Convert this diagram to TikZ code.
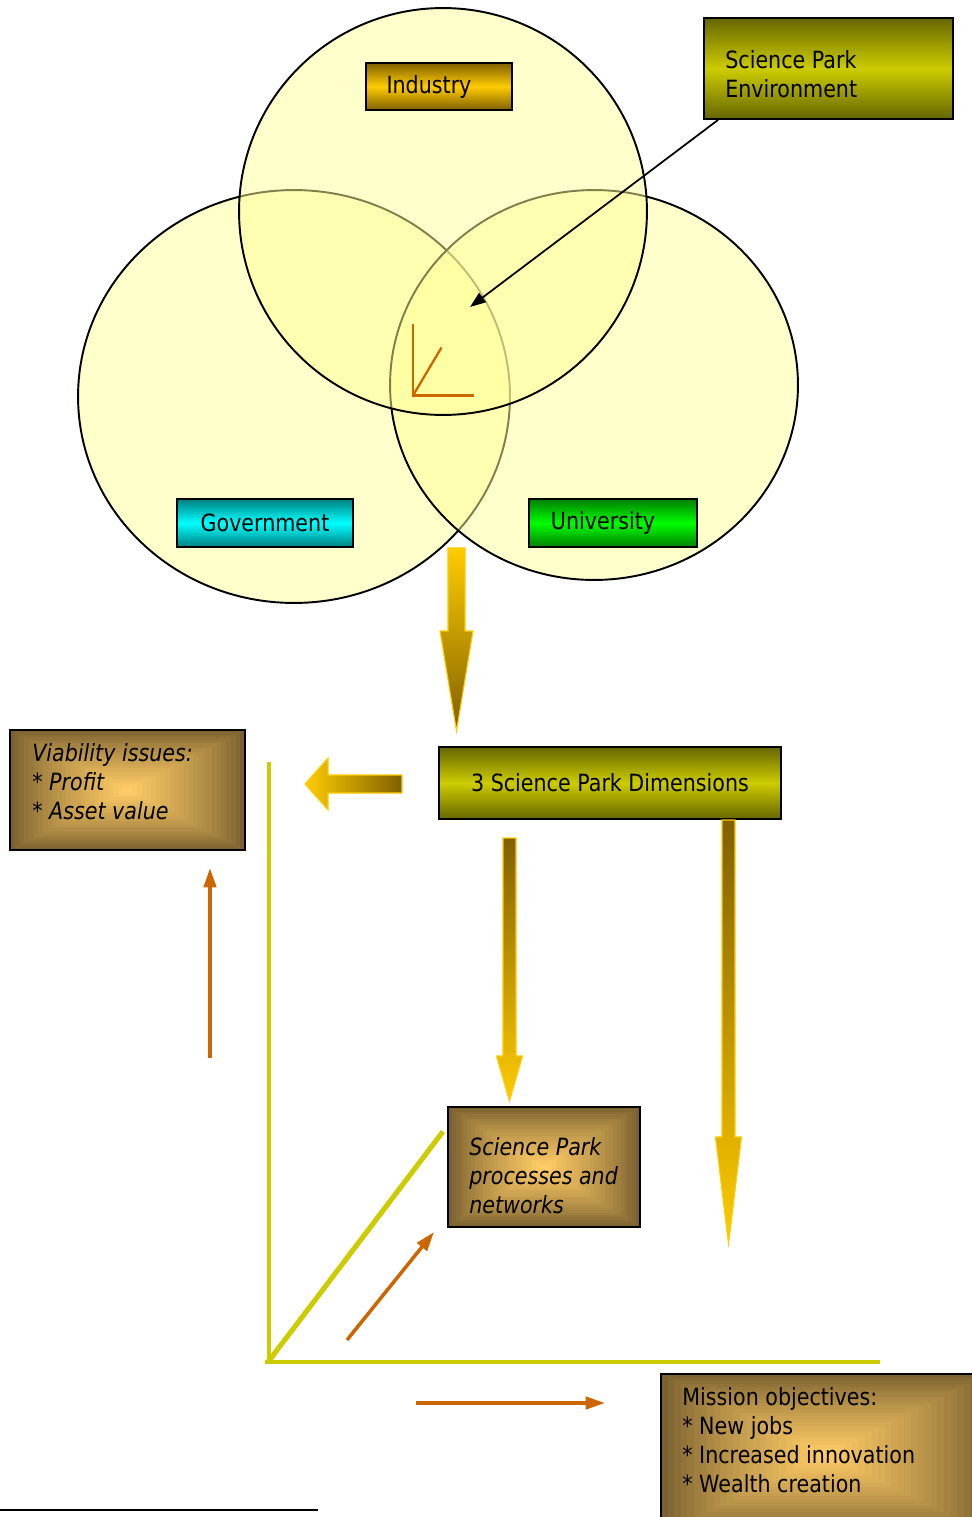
\documentclass[tikz,border=0pt]{standalone}
\usepackage{fontspec}
\setmainfont{DejaVu Sans}[FakeStretch=0.87]
\usetikzlibrary{calc,arrows.meta}

\definecolor{venn}{HTML}{FFFF99}
\definecolor{gold}{HTML}{FFCC00}
\definecolor{golddark}{HTML}{806000}
\definecolor{olivelight}{HTML}{CCCC00}
\definecolor{olivedark}{HTML}{666600}
\definecolor{cyanlight}{HTML}{00FFFF}
\definecolor{cyandark}{HTML}{008080}
\definecolor{greenlight}{HTML}{00FF00}
\definecolor{greendark}{HTML}{008000}
\definecolor{brownlight}{HTML}{FFCC66}
\definecolor{browndark}{HTML}{7A6030}
\definecolor{axisline}{HTML}{CCCC00}
\definecolor{rust}{HTML}{CC6600}

\tikzset{
  sector/.style={draw=black, line width=1.1pt, fill=venn, fill opacity=0.5},
  labelfont/.style={font=\fontsize{13.5}{16.5}\selectfont},
  tag/.style={draw=black, line width=1pt, inner sep=0pt, labelfont},
  goldtag/.style={tag, top color=golddark, bottom color=golddark, middle color=gold},
  olivetag/.style={tag, top color=olivedark, bottom color=olivedark, middle color=olivelight},
  cyantag/.style={tag, top color=cyandark, bottom color=cyandark, middle color=cyanlight},
  greentag/.style={tag, top color=greendark, bottom color=greendark, middle color=greenlight},
  brownbox/.style={draw=black, line width=1pt, inner sep=0pt,
    path picture={
      \foreach \k in {0,...,24}{
        \pgfmathsetmacro\t{\k/25}
        \pgfmathtruncatemacro\p{100*(\k/24)^0.8}
        \fill[brownlight!\p!browndark]
          ($(path picture bounding box.south west)!\t!(path picture bounding box.center)$)
          rectangle
          ($(path picture bounding box.north east)!\t!(path picture bounding box.center)$);
      }}},
  bodytext/.style={inner sep=0pt, anchor=north west, align=left, labelfont},
  bodyitalic/.style={bodytext, font=\fontsize{13.5}{16.5}\selectfont\itshape},
  blockarrow/.style={draw=gold, line width=0.6pt},
  thinarrow/.style={rust, line width=2pt, -{Triangle[length=11pt,width=7pt]}},
  guide/.style={axisline, line width=1.9pt},
}

\begin{document}
\begin{tikzpicture}[x=0.02cm, y=-0.02cm]
  \useasboundingbox (0,0) rectangle (972,1517);
  \fill[white] (0,0) rectangle (972,1517);
  \clip (0,0) rectangle (972,1517);

  % --- the three overlapping spheres ---
  \path[sector] (294,396.5) ellipse [x radius=4.32cm, y radius=4.13cm];
  \path[sector] (594,385) ellipse [x radius=4.08cm, y radius=3.9cm];
  \path[sector] (443,211.5) ellipse [x radius=4.08cm, y radius=4.07cm];

  % --- sphere labels ---
  \node[goldtag, minimum width=2.92cm, minimum height=0.94cm] (industry) at (439,86.5) {Industry\kern0.4cm};
  \node[cyantag, minimum width=3.52cm, minimum height=0.96cm] (gov) at (265,523) {Government};
  \node[greentag, minimum width=3.36cm, minimum height=0.96cm] (uni) at (613,523) {University\kern0.4cm};

  % --- environment callout ---
  \node[olivetag, minimum width=4.98cm, minimum height=2.02cm] (env) at (828.5,68.5) {};
  \node[bodytext] (envtext) at (725,50) {Science Park\\Environment};
  \coordinate (hub) at (470,307);
  \draw[line width=1pt, -{Triangle[length=9pt,width=6.5pt]}] ($(env.south west)+(15,0)$) -- (hub);

  % --- small axes in the centre of the overlap ---
  \coordinate (axo) at (413,395.5);
  \coordinate (axy) at (413,324);
  \coordinate (axx) at (474,395.5);
  \coordinate (axd) at (441.5,347.5);
  \draw[rust, line width=1.3pt] (axy) -- (axo) -- (axx);
  \draw[rust, line width=1.3pt] (axo) -- (axd);

  % --- big arrow down from the spheres ---
  \shadedraw[blockarrow, top color=gold, bottom color=golddark]
    (448,548) -- (465,548) -- (465,631) -- (473,631) -- (456.5,731)
    -- (440,631) -- (448,631) -- cycle;

  % --- dimensions box ---
  \node[olivetag, minimum width=6.84cm, minimum height=1.44cm] (dims) at (610,783) {3 Science Park Dimensions};

  % --- viability box and arrow pointing to it ---
  \node[brownbox, minimum width=4.7cm, minimum height=2.4cm] (viab) at (127.5,790) {};
  \node[bodyitalic] (viabtext) at (32,743) {Viability issues:\\* Profit\\* Asset value};
  \shadedraw[blockarrow, left color=gold, right color=golddark]
    (305,784) -- (328,758) -- (328,775) -- (402,775) -- (402,793)
    -- (328,793) -- (328,810) -- cycle;

  % --- two arrows down from the dimensions box ---
  \shadedraw[blockarrow, top color=golddark, bottom color=gold]
    (503,838) -- (516,838) -- (516,1056) -- (522.5,1056) -- (509.5,1101)
    -- (496.5,1056) -- (503,1056) -- cycle;
  \shadedraw[blockarrow, top color=golddark, bottom color=gold]
    (722,820) -- (735,820) -- (735,1137) -- (741.5,1137) -- (728.5,1244)
    -- (715.5,1137) -- (722,1137) -- cycle;

  % --- processes box ---
  \node[brownbox, minimum width=3.84cm, minimum height=2.4cm] (proc) at (544,1167) {};
  \node[bodyitalic] (proctext) at (469,1137) {Science Park\\processes and\\networks};

  % --- three-axis frame ---
  \coordinate (corner) at (268,1362);
  \coordinate (ytop) at (269,762);
  \coordinate (xend) at (880,1362);
  \coordinate (zend) at (443,1131.5);
  \draw[guide] (ytop) -- (269,1362);
  \draw[guide] (265,1362) -- (xend);
  \draw[axisline, line width=2.9pt] (corner) -- (zend);

  % --- orange direction arrows ---
  \coordinate (va) at (210,1058);
  \coordinate (vb) at (210,868);
  \coordinate (da) at (347,1340);
  \coordinate (db) at (434,1232);
  \coordinate (ha) at (416,1403);
  \coordinate (hb) at (605,1403);
  \draw[thinarrow] (va) -- (vb);
  \draw[thinarrow] (da) -- (db);
  \draw[thinarrow] (ha) -- (hb);

  % --- mission box ---
  \node[brownbox, minimum width=6.58cm, minimum height=3.22cm] (mission) at (825.5,1454.5) {};
  \node[bodytext] (missiontext) at (682,1387) {Mission objectives:\\* New jobs\\* Increased innovation\\* Wealth creation};

  % --- rule at the foot ---
  \coordinate (rulea) at (0,1510);
  \coordinate (ruleb) at (318,1510);
  \draw[line width=1.3pt] (rulea) -- (ruleb);
\end{tikzpicture}
\end{document}
